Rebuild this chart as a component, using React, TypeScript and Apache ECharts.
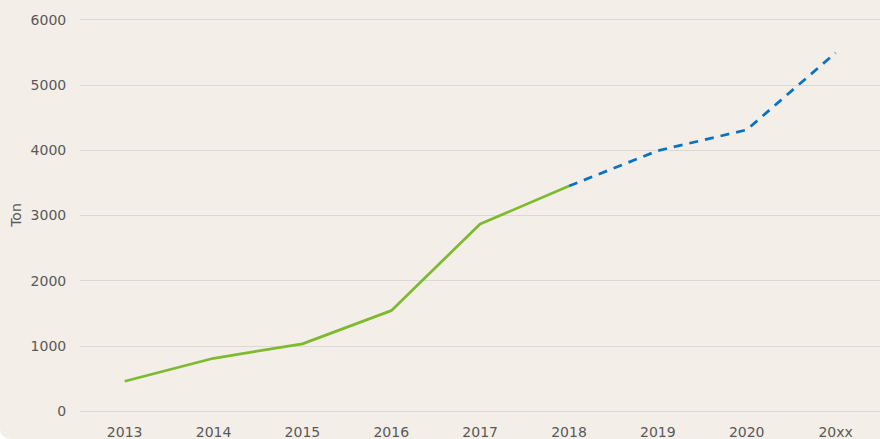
import React, { useEffect, useRef } from "react";
import * as echarts from "echarts";

const categories = ["2013", "2014", "2015", "2016", "2017", "2018", "2019", "2020", "20xx"];
const actualValues = [456, 808, 1029, 1538, 2865, 3448, null, null, null];
const forecastValues = [null, null, null, null, null, 3448, 3990, 4309, 5490];
const yTicks = { min: 0, max: 6000, interval: 1000 };
const yAxisTitle = "Ton";

export default function App() {
  const ref = useRef<HTMLDivElement>(null);
  useEffect(() => {
    if (!ref.current) return;
    const chart = echarts.init(ref.current, null, { renderer: "svg" });
    const font = "Verdana, 'DejaVu Sans', sans-serif";
    chart.setOption({
      animation: false,
      backgroundColor: "#f3efe8",
      grid: { left: 80.25, width: 805.5, top: 19.5, height: 392 },
      xAxis: {
        type: "category",
        data: categories,
        boundaryGap: true,
        axisLine: { show: false },
        axisTick: { show: false },
        axisLabel: { color: "#595959", fontSize: 14, fontFamily: font, margin: 14 },
        splitLine: { show: false },
      },
      yAxis: {
        type: "value",
        min: yTicks.min,
        max: yTicks.max,
        interval: yTicks.interval,
        axisLine: { show: false },
        axisTick: { show: false },
        axisLabel: {
          color: "#595959",
          fontSize: 14,
          fontFamily: font,
          margin: 14,
          formatter: (v: number) => String(v),
        },
        splitLine: { lineStyle: { color: "#dcd9d4", width: 1 } },
      },
      graphic: [
        {
          type: "text",
          x: 16,
          y: 215,
          rotation: Math.PI / 2,
          style: {
            text: yAxisTitle,
            fill: "#595959",
            font: `14px ${font}`,
            align: "center",
            verticalAlign: "middle",
          },
        },
      ],
      series: [
        {
          type: "line",
          data: actualValues,
          symbol: "none",
          lineStyle: { color: "#7dba2f", width: 2.75 },
          itemStyle: { color: "#7dba2f" },
        },
        {
          type: "line",
          data: forecastValues,
          symbol: "none",
          lineStyle: { color: "#0a72c4", width: 2.75, type: [9, 7] },
          itemStyle: { color: "#0a72c4" },
        },
      ],
    });
    return () => chart.dispose();
  }, []);
  return (
    <div
      style={{
        position: "absolute",
        left: 0,
        top: 0,
        width: 880,
        height: 439,
        overflow: "hidden",
        borderBottomLeftRadius: 10,
      }}
    >
      <div ref={ref} style={{ width: 880, height: 439 }} />
    </div>
  );
}
